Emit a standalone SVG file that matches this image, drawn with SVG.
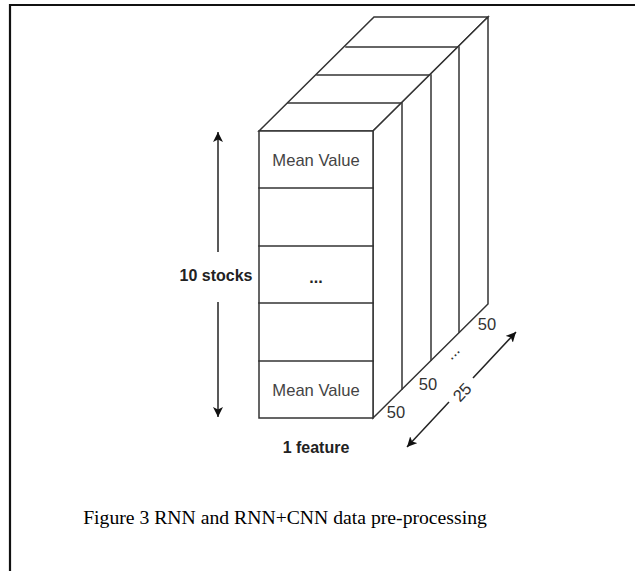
<svg xmlns="http://www.w3.org/2000/svg" width="635" height="571" viewBox="0 0 635 571">
  <defs>
    <marker id="head" viewBox="0 0 10 10" refX="10" refY="5" markerWidth="10" markerHeight="10" markerUnits="userSpaceOnUse" orient="auto-start-reverse">
      <path d="M0,0 L10,5 L0,10 L2.5,5 Z" fill="#111"/>
    </marker>
    <style>
      .edge { stroke: #333; stroke-width: 1.5; fill: none; stroke-linecap: square; }
      .face { stroke: #333; stroke-width: 1.5; fill: #fff; }
      .arrow { stroke: #222; stroke-width: 1.5; fill: none; }
      .cell { font-family: "Liberation Sans", Arial, sans-serif; font-size: 16.6px; fill: #444; text-anchor: middle; }
      .label { font-family: "Liberation Sans", Arial, sans-serif; font-size: 16px; font-weight: bold; fill: #222; text-anchor: middle; }
      .dim { font-family: "Liberation Sans", Arial, sans-serif; font-size: 16.5px; fill: #333; text-anchor: middle; }
      .caption { font-family: "Liberation Serif", "Times New Roman", serif; font-size: 19.7px; fill: #000; text-anchor: middle; }
    </style>
  </defs>

  <rect width="635" height="571" fill="#fff"/>

  <!-- page frame (top and left rules) -->
  <g id="frame">
    <line x1="9" y1="5" x2="635" y2="5" stroke="#111" stroke-width="2"/>
    <line x1="10" y1="4" x2="10" y2="571" stroke="#111" stroke-width="2.2"/>
  </g>

  <!-- stacked data block: 25 slices of 10 x 1 -->
  <g id="block">
    <!-- top face -->
    <polygon class="face" points="259,131 374,17 488,17 373,131"/>
    <line class="edge" x1="288" y1="103" x2="402" y2="103"/>
    <line class="edge" x1="317" y1="75" x2="431" y2="75"/>
    <line class="edge" x1="346" y1="47" x2="459" y2="47"/>
    <!-- right side -->
    <polygon class="face" points="373,131 488,17 488,304 373,418"/>
    <line class="edge" x1="402" y1="103" x2="402" y2="389"/>
    <line class="edge" x1="431" y1="75" x2="431" y2="360"/>
    <line class="edge" x1="459" y1="47" x2="459" y2="332"/>
  </g>

  <!-- front slice cells -->
  <g id="front-face">
    <rect class="face" x="259" y="131" width="114" height="287"/>
    <line class="edge" x1="259" y1="188" x2="373" y2="188"/>
    <line class="edge" x1="259" y1="246" x2="373" y2="246"/>
    <line class="edge" x1="259" y1="303" x2="373" y2="303"/>
    <line class="edge" x1="259" y1="361" x2="373" y2="361"/>
    <text class="cell" x="316" y="166">Mean Value</text>
    <text class="label" x="316" y="283" font-size="14">...</text>
    <text class="cell" x="316" y="396">Mean Value</text>
  </g>

  <!-- dimension labels -->
  <g id="dims">
    <text class="dim" x="396" y="418">50</text>
    <text class="dim" x="428" y="390">50</text>
    <text class="dim" x="487" y="330">50</text>
    <text class="dim" transform="translate(456,356) rotate(-45)" x="0" y="0">...</text>
    <text class="dim" transform="translate(462,392) rotate(-46.5)" x="0" y="6">25</text>
    <text class="label" x="216" y="281">10 stocks</text>
    <text class="label" x="316" y="453">1 feature</text>
  </g>

  <!-- dimension arrows -->
  <g id="connectors">
    <line class="arrow" x1="218" y1="252" x2="218" y2="132" marker-end="url(#head)"/>
    <line class="arrow" x1="218" y1="302" x2="218" y2="417" marker-end="url(#head)"/>
    <line class="arrow" x1="449" y1="402" x2="407" y2="447" marker-end="url(#head)"/>
    <line class="arrow" x1="473" y1="378" x2="516" y2="332" marker-end="url(#head)"/>
  </g>

  <text class="caption" x="285" y="524">Figure 3 RNN and RNN+CNN data pre-processing</text>
</svg>
